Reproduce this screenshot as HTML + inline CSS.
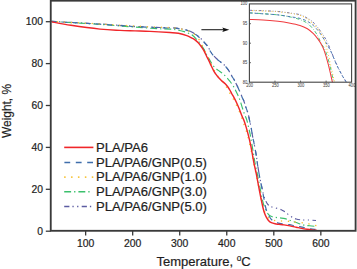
<!DOCTYPE html>
<html><head><meta charset="utf-8"><style>
html,body{margin:0;padding:0;background:#fff;}
body{width:357px;height:269px;overflow:hidden;}
svg{display:block;font-family:"Liberation Sans",sans-serif;}
text{stroke:#1e1e1e;stroke-width:0.2px;}
text.i{stroke:none;}
</style></head><body>
<svg width="357" height="269" viewBox="0 0 357 269">
<defs><clipPath id="ic"><rect x="249.40" y="3.90" width="102.20" height="78.30"/></clipPath><clipPath id="mc"><rect x="51.5" y="1.5" width="303.5" height="229"/></clipPath></defs>
<rect width="357" height="269" fill="#fff"/>
<g clip-path="url(#mc)">
<path d="M50.80 21.40C54.17 21.57 62.80 21.97 71.00 22.40C79.20 22.83 89.33 23.35 100.00 24.00C110.67 24.65 125.00 25.72 135.00 26.30C145.00 26.88 153.50 27.23 160.00 27.50C166.50 27.77 170.33 27.65 174.00 27.90C177.67 28.15 179.83 28.63 182.00 29.00C184.17 29.37 185.67 29.75 187.00 30.10C188.33 30.45 188.92 30.60 190.00 31.10C191.08 31.60 192.37 32.43 193.50 33.10C194.63 33.77 195.82 34.38 196.80 35.10C197.78 35.82 198.47 36.58 199.40 37.40C200.33 38.22 201.53 39.13 202.40 40.00C203.27 40.87 203.85 41.73 204.60 42.60C205.35 43.47 206.23 44.33 206.90 45.20C207.57 46.07 207.98 46.73 208.60 47.80C209.22 48.87 209.80 50.32 210.60 51.60C211.40 52.88 212.43 54.35 213.40 55.50C214.37 56.65 215.40 57.60 216.40 58.50C217.40 59.40 218.28 60.00 219.40 60.90C220.52 61.80 221.98 62.90 223.10 63.90C224.22 64.90 225.23 65.92 226.10 66.90C226.97 67.88 227.42 68.42 228.30 69.80C229.18 71.18 230.43 73.57 231.40 75.20C232.37 76.83 233.35 78.27 234.10 79.60C234.85 80.93 235.30 82.00 235.90 83.20C236.50 84.40 237.10 85.53 237.70 86.80C238.30 88.07 238.75 89.07 239.50 90.80C240.25 92.53 241.48 95.55 242.20 97.20C242.92 98.85 243.25 99.22 243.80 100.70C244.35 102.18 244.92 104.38 245.50 106.10C246.08 107.82 246.82 109.55 247.30 111.00C247.78 112.45 248.00 113.15 248.40 114.80C248.80 116.45 249.25 118.83 249.70 120.90C250.15 122.97 250.70 125.12 251.10 127.20C251.50 129.28 251.82 131.72 252.10 133.40C252.38 135.08 252.50 135.78 252.80 137.30C253.10 138.82 253.43 140.15 253.90 142.50C254.37 144.85 255.13 148.80 255.60 151.40C256.07 154.00 256.37 155.87 256.70 158.10C257.03 160.33 257.23 162.37 257.60 164.80C257.97 167.23 258.40 169.90 258.90 172.70C259.40 175.50 260.03 178.82 260.60 181.60C261.17 184.38 261.78 187.08 262.30 189.40C262.82 191.72 263.15 193.67 263.70 195.50C264.25 197.33 264.95 198.95 265.60 200.40C266.25 201.85 266.78 203.18 267.60 204.20C268.42 205.22 269.23 205.90 270.50 206.50C271.77 207.10 273.40 207.27 275.20 207.80C277.00 208.33 279.72 209.05 281.30 209.70C282.88 210.35 283.55 210.92 284.70 211.70C285.85 212.48 286.93 213.47 288.20 214.40C289.47 215.33 290.97 216.53 292.30 217.30C293.63 218.07 294.62 218.57 296.20 219.00C297.78 219.43 299.83 219.73 301.80 219.90C303.77 220.07 305.63 219.90 308.00 220.00C310.37 220.10 314.67 220.42 316.00 220.50" fill="none" stroke="#5c5ca2" stroke-width="1.15" stroke-linejoin="round" stroke-linecap="butt" stroke-dasharray="5.2 3 1.3 3.4 1.3 3.3"/>
<path d="M50.80 21.40C54.17 21.60 62.80 22.10 71.00 22.60C79.20 23.10 90.17 23.72 100.00 24.40C109.83 25.08 121.00 26.02 130.00 26.70C139.00 27.38 147.33 28.10 154.00 28.50C160.67 28.90 165.93 28.82 170.00 29.10C174.07 29.38 175.60 29.63 178.40 30.20C181.20 30.77 184.42 31.62 186.80 32.50C189.18 33.38 191.08 34.35 192.70 35.50C194.32 36.65 195.38 38.25 196.50 39.40C197.62 40.55 198.42 41.15 199.40 42.40C200.38 43.65 201.58 45.65 202.40 46.90C203.22 48.15 203.70 48.83 204.30 49.90C204.90 50.97 205.28 51.95 206.00 53.30C206.72 54.65 207.67 56.33 208.60 58.00C209.53 59.67 210.67 61.82 211.60 63.30C212.53 64.78 213.15 65.77 214.20 66.90C215.25 68.03 216.67 69.13 217.90 70.10C219.13 71.07 220.47 71.82 221.60 72.70C222.73 73.58 223.65 74.37 224.70 75.40C225.75 76.43 226.93 77.80 227.90 78.90C228.87 80.00 229.62 80.82 230.50 82.00C231.38 83.18 232.45 84.80 233.20 86.00C233.95 87.20 234.40 88.03 235.00 89.20C235.60 90.37 236.23 91.78 236.80 93.00C237.37 94.22 237.83 95.18 238.40 96.50C238.97 97.82 239.53 98.98 240.20 100.90C240.87 102.82 241.73 105.92 242.40 108.00C243.07 110.08 243.50 111.50 244.20 113.40C244.90 115.30 245.90 117.22 246.60 119.40C247.30 121.58 247.80 123.98 248.40 126.50C249.00 129.02 249.60 131.43 250.20 134.50C250.80 137.57 251.45 141.68 252.00 144.90C252.55 148.12 253.00 150.82 253.50 153.80C254.00 156.78 254.40 159.62 255.00 162.80C255.60 165.98 256.45 169.73 257.10 172.90C257.75 176.07 258.32 178.82 258.90 181.80C259.48 184.78 260.02 187.77 260.60 190.80C261.18 193.83 261.80 197.42 262.40 200.00C263.00 202.58 263.57 204.53 264.20 206.30C264.83 208.07 265.50 209.27 266.20 210.60C266.90 211.93 267.60 213.35 268.40 214.30C269.20 215.25 269.90 215.80 271.00 216.30C272.10 216.80 273.50 217.03 275.00 217.30C276.50 217.57 278.33 217.68 280.00 217.90C281.67 218.12 283.60 218.28 285.00 218.60C286.40 218.92 287.10 219.35 288.40 219.80C289.70 220.25 291.50 220.85 292.80 221.30C294.10 221.75 294.33 221.87 296.20 222.50C298.07 223.13 301.77 224.55 304.00 225.10C306.23 225.65 307.60 225.58 309.60 225.80C311.60 226.02 314.93 226.30 316.00 226.40" fill="none" stroke="#3bc06c" stroke-width="1.15" stroke-linejoin="round" stroke-linecap="butt" stroke-dasharray="6.9 3 1.3 3"/>
<path d="M50.80 21.40C54.17 21.58 62.80 22.03 71.00 22.50C79.20 22.97 89.33 23.52 100.00 24.20C110.67 24.88 125.00 26.00 135.00 26.60C145.00 27.20 153.50 27.53 160.00 27.80C166.50 28.07 170.33 27.97 174.00 28.20C177.67 28.43 179.83 28.85 182.00 29.20C184.17 29.55 185.67 29.95 187.00 30.30C188.33 30.65 188.92 30.80 190.00 31.30C191.08 31.80 192.37 32.63 193.50 33.30C194.63 33.97 195.82 34.58 196.80 35.30C197.78 36.02 198.47 36.78 199.40 37.60C200.33 38.42 201.53 39.33 202.40 40.20C203.27 41.07 203.85 41.93 204.60 42.80C205.35 43.67 206.23 44.53 206.90 45.40C207.57 46.27 207.98 46.93 208.60 48.00C209.22 49.07 209.80 50.52 210.60 51.80C211.40 53.08 212.43 54.55 213.40 55.70C214.37 56.85 215.40 57.80 216.40 58.70C217.40 59.60 218.28 60.20 219.40 61.10C220.52 62.00 221.98 63.10 223.10 64.10C224.22 65.10 225.23 66.12 226.10 67.10C226.97 68.08 227.42 68.62 228.30 70.00C229.18 71.38 230.43 73.77 231.40 75.40C232.37 77.03 233.35 78.47 234.10 79.80C234.85 81.13 235.30 82.20 235.90 83.40C236.50 84.60 237.10 85.73 237.70 87.00C238.30 88.27 238.75 89.27 239.50 91.00C240.25 92.73 241.48 95.75 242.20 97.40C242.92 99.05 243.25 99.42 243.80 100.90C244.35 102.38 244.92 104.58 245.50 106.30C246.08 108.02 246.82 109.75 247.30 111.20C247.78 112.65 248.00 113.35 248.40 115.00C248.80 116.65 249.25 119.03 249.70 121.10C250.15 123.17 250.70 125.32 251.10 127.40C251.50 129.48 251.82 131.92 252.10 133.60C252.38 135.28 252.50 135.98 252.80 137.50C253.10 139.02 253.43 140.35 253.90 142.70C254.37 145.05 255.13 149.00 255.60 151.60C256.07 154.20 256.37 156.07 256.70 158.30C257.03 160.53 257.23 162.57 257.60 165.00C257.97 167.43 258.40 170.10 258.90 172.90C259.40 175.70 260.03 179.02 260.60 181.80C261.17 184.58 261.80 187.07 262.30 189.60C262.80 192.13 263.12 194.35 263.60 197.00C264.08 199.65 264.60 202.92 265.20 205.50C265.80 208.08 266.47 210.58 267.20 212.50C267.93 214.42 268.80 215.75 269.60 217.00C270.40 218.25 271.02 219.17 272.00 220.00C272.98 220.83 274.25 221.43 275.50 222.00C276.75 222.57 278.08 223.05 279.50 223.40C280.92 223.75 282.33 223.88 284.00 224.10C285.67 224.32 287.83 224.45 289.50 224.70C291.17 224.95 292.32 225.27 294.00 225.60C295.68 225.93 297.73 226.33 299.60 226.70C301.47 227.07 303.33 227.45 305.20 227.80C307.07 228.15 309.08 228.53 310.80 228.80C312.52 229.07 314.72 229.30 315.50 229.40" fill="none" stroke="#3f6eab" stroke-width="1.2" stroke-linejoin="round" stroke-linecap="butt" stroke-dasharray="5.8 5.4"/>
<path d="M50.80 21.40C54.17 21.57 62.80 21.97 71.00 22.40C79.20 22.83 90.17 23.43 100.00 24.00C109.83 24.57 120.00 25.27 130.00 25.80C140.00 26.33 152.50 26.85 160.00 27.20C167.50 27.55 170.53 27.37 175.00 27.90C179.47 28.43 183.85 29.57 186.80 30.40C189.75 31.23 190.97 31.77 192.70 32.90C194.43 34.03 195.88 35.68 197.20 37.20C198.52 38.72 199.60 40.32 200.60 42.00C201.60 43.68 202.30 45.42 203.20 47.30C204.10 49.18 205.10 51.33 206.00 53.30C206.90 55.27 207.73 57.25 208.60 59.10C209.47 60.95 210.33 62.67 211.20 64.40C212.07 66.13 212.93 67.90 213.80 69.50C214.67 71.10 215.55 72.65 216.40 74.00C217.25 75.35 217.88 76.33 218.90 77.60C219.92 78.87 221.30 80.12 222.50 81.60C223.70 83.08 225.05 84.87 226.10 86.50C227.15 88.13 227.87 89.73 228.80 91.40C229.73 93.07 230.70 94.83 231.70 96.50C232.70 98.17 233.83 99.55 234.80 101.40C235.77 103.25 236.60 105.60 237.50 107.60C238.40 109.60 239.43 111.52 240.20 113.40C240.97 115.28 241.55 117.32 242.10 118.90C242.65 120.48 242.90 121.18 243.50 122.90C244.10 124.62 245.02 127.12 245.70 129.20C246.38 131.28 246.90 132.78 247.60 135.40C248.30 138.02 249.18 141.83 249.90 144.90C250.62 147.97 251.28 150.82 251.90 153.80C252.52 156.78 252.93 159.62 253.60 162.80C254.27 165.98 255.20 169.73 255.90 172.90C256.60 176.07 257.18 178.82 257.80 181.80C258.42 184.78 258.98 187.77 259.60 190.80C260.22 193.83 260.93 197.38 261.50 200.00C262.07 202.62 262.48 204.58 263.00 206.50C263.52 208.42 263.97 209.97 264.60 211.50C265.23 213.03 266.10 214.62 266.80 215.70C267.50 216.78 268.07 217.35 268.80 218.00C269.53 218.65 269.87 219.15 271.20 219.60C272.53 220.05 274.73 220.47 276.80 220.70C278.87 220.93 281.35 220.87 283.60 221.00C285.85 221.13 288.23 221.30 290.30 221.50C292.37 221.70 293.90 221.97 296.00 222.20C298.10 222.43 300.63 222.60 302.90 222.90C305.17 223.20 307.45 223.57 309.60 224.00C311.75 224.43 314.77 225.25 315.80 225.50" fill="none" stroke="#f7c12e" stroke-width="1.5" stroke-linejoin="round" stroke-linecap="round" stroke-dasharray="0.01 6.9"/>
<path d="M50.80 21.70C54.17 22.30 62.80 24.07 71.00 25.30C79.20 26.53 91.83 28.25 100.00 29.10C108.17 29.95 114.17 30.10 120.00 30.40C125.83 30.70 130.00 30.73 135.00 30.90C140.00 31.07 144.17 31.13 150.00 31.40C155.83 31.67 165.27 32.18 170.00 32.50C174.73 32.82 175.60 32.78 178.40 33.30C181.20 33.82 184.53 34.80 186.80 35.60C189.07 36.40 190.63 37.40 192.00 38.10C193.37 38.80 194.00 39.07 195.00 39.80C196.00 40.53 197.02 41.45 198.00 42.50C198.98 43.55 199.92 44.75 200.90 46.10C201.88 47.45 202.93 48.87 203.90 50.60C204.87 52.33 205.85 54.78 206.70 56.50C207.55 58.22 208.25 59.35 209.00 60.90C209.75 62.45 210.42 64.15 211.20 65.80C211.98 67.45 212.97 69.47 213.70 70.80C214.43 72.13 214.88 72.75 215.60 73.80C216.32 74.85 217.00 75.95 218.00 77.10C219.00 78.25 220.40 79.58 221.60 80.70C222.80 81.82 224.15 82.75 225.20 83.80C226.25 84.85 227.08 85.88 227.90 87.00C228.72 88.12 229.43 89.33 230.10 90.50C230.77 91.67 231.27 92.85 231.90 94.00C232.53 95.15 233.12 95.95 233.90 97.40C234.68 98.85 235.70 100.77 236.60 102.70C237.50 104.63 238.40 106.78 239.30 109.00C240.20 111.22 241.23 114.12 242.00 116.00C242.77 117.88 243.20 118.40 243.90 120.30C244.60 122.20 245.45 124.88 246.20 127.40C246.95 129.92 247.67 132.48 248.40 135.40C249.13 138.32 249.95 141.83 250.60 144.90C251.25 147.97 251.75 150.82 252.30 153.80C252.85 156.78 253.27 159.62 253.90 162.80C254.53 165.98 255.45 169.73 256.10 172.90C256.75 176.07 257.23 178.82 257.80 181.80C258.37 184.78 258.92 187.77 259.50 190.80C260.08 193.83 260.75 197.30 261.30 200.00C261.85 202.70 262.30 204.92 262.80 207.00C263.30 209.08 263.72 210.80 264.30 212.50C264.88 214.20 265.57 215.82 266.30 217.20C267.03 218.58 267.87 219.88 268.70 220.80C269.53 221.72 270.25 222.20 271.30 222.70C272.35 223.20 273.72 223.53 275.00 223.80C276.28 224.07 277.50 224.12 279.00 224.30C280.50 224.48 282.17 224.63 284.00 224.90C285.83 225.17 287.97 225.52 290.00 225.90C292.03 226.28 294.23 226.78 296.20 227.20C298.17 227.62 299.93 228.05 301.80 228.40C303.67 228.75 305.72 229.05 307.40 229.30C309.08 229.55 310.37 229.73 311.90 229.90C313.43 230.07 315.82 230.23 316.60 230.30" fill="none" stroke="#f0262a" stroke-width="1.45" stroke-linejoin="round" stroke-linecap="butt"/>
</g>
<rect x="50.75" y="0.70" width="304.85" height="230.10" fill="none" stroke="#3a3a3a" stroke-width="1.85"/>
<line x1="45.8" y1="231.20" x2="50.75" y2="231.20" stroke="#3a3a3a" stroke-width="1.3"/>
<text x="42.9" y="234.60" text-anchor="end" font-size="10.3" fill="#1e1e1e">0</text>
<line x1="45.8" y1="189.30" x2="50.75" y2="189.30" stroke="#3a3a3a" stroke-width="1.3"/>
<text x="42.9" y="192.70" text-anchor="end" font-size="10.3" fill="#1e1e1e">20</text>
<line x1="45.8" y1="147.40" x2="50.75" y2="147.40" stroke="#3a3a3a" stroke-width="1.3"/>
<text x="42.9" y="150.80" text-anchor="end" font-size="10.3" fill="#1e1e1e">40</text>
<line x1="45.8" y1="105.50" x2="50.75" y2="105.50" stroke="#3a3a3a" stroke-width="1.3"/>
<text x="42.9" y="108.90" text-anchor="end" font-size="10.3" fill="#1e1e1e">60</text>
<line x1="45.8" y1="63.60" x2="50.75" y2="63.60" stroke="#3a3a3a" stroke-width="1.3"/>
<text x="42.9" y="67.00" text-anchor="end" font-size="10.3" fill="#1e1e1e">80</text>
<line x1="45.8" y1="21.70" x2="50.75" y2="21.70" stroke="#3a3a3a" stroke-width="1.3"/>
<text x="42.9" y="25.10" text-anchor="end" font-size="10.3" fill="#1e1e1e">100</text>
<line x1="85.64" y1="230.80" x2="85.64" y2="235.5" stroke="#3a3a3a" stroke-width="1.3"/>
<text x="85.64" y="246.6" text-anchor="middle" font-size="10.4" fill="#1e1e1e">100</text>
<line x1="132.68" y1="230.80" x2="132.68" y2="235.5" stroke="#3a3a3a" stroke-width="1.3"/>
<text x="132.68" y="246.6" text-anchor="middle" font-size="10.4" fill="#1e1e1e">200</text>
<line x1="179.72" y1="230.80" x2="179.72" y2="235.5" stroke="#3a3a3a" stroke-width="1.3"/>
<text x="179.72" y="246.6" text-anchor="middle" font-size="10.4" fill="#1e1e1e">300</text>
<line x1="226.76" y1="230.80" x2="226.76" y2="235.5" stroke="#3a3a3a" stroke-width="1.3"/>
<text x="226.76" y="246.6" text-anchor="middle" font-size="10.4" fill="#1e1e1e">400</text>
<line x1="273.80" y1="230.80" x2="273.80" y2="235.5" stroke="#3a3a3a" stroke-width="1.3"/>
<text x="273.80" y="246.6" text-anchor="middle" font-size="10.4" fill="#1e1e1e">500</text>
<line x1="320.84" y1="230.80" x2="320.84" y2="235.5" stroke="#3a3a3a" stroke-width="1.3"/>
<text x="320.84" y="246.6" text-anchor="middle" font-size="10.4" fill="#1e1e1e">600</text>
<text x="156.5" y="266" font-size="13" fill="#1e1e1e">Temperature, <tspan font-size="8.2" dy="-4.9">o</tspan><tspan dy="4.9">C</tspan></text>
<text transform="translate(11.2,137.9) rotate(-90)" font-size="13" fill="#1e1e1e" textLength="53.9" lengthAdjust="spacingAndGlyphs">Weight, %</text>
<line x1="64.20" y1="147.40" x2="93.40" y2="147.40" stroke="#f0262a" stroke-width="1.6" stroke-linecap="butt"/>
<text x="96.0" y="151.70" font-size="12.0" fill="#1e1e1e" textLength="52.11" lengthAdjust="spacingAndGlyphs">PLA/PA6</text>
<line x1="64.40" y1="162.40" x2="93.40" y2="162.40" stroke="#3f6eab" stroke-width="1.5" stroke-linecap="butt" stroke-dasharray="5.8 5.6"/>
<text x="96.0" y="166.70" font-size="12.0" fill="#1e1e1e" textLength="110.99" lengthAdjust="spacingAndGlyphs">PLA/PA6/GNP(0.5)</text>
<line x1="64.90" y1="177.10" x2="93.40" y2="177.10" stroke="#f7c12e" stroke-width="1.9" stroke-linecap="round" stroke-dasharray="0.01 6.9"/>
<text x="96.0" y="181.40" font-size="12.0" fill="#1e1e1e" textLength="110.99" lengthAdjust="spacingAndGlyphs">PLA/PA6/GNP(1.0)</text>
<line x1="64.20" y1="191.70" x2="91.00" y2="191.70" stroke="#3bc06c" stroke-width="1.4" stroke-linecap="butt" stroke-dasharray="6.9 3 1.3 3"/>
<text x="96.0" y="196.00" font-size="12.0" fill="#1e1e1e" textLength="110.99" lengthAdjust="spacingAndGlyphs">PLA/PA6/GNP(3.0)</text>
<line x1="64.20" y1="206.50" x2="93.40" y2="206.50" stroke="#5c5ca2" stroke-width="1.4" stroke-linecap="butt" stroke-dasharray="5.2 3 1.3 3.4 1.3 3.3"/>
<text x="96.0" y="210.80" font-size="12.0" fill="#1e1e1e" textLength="110.99" lengthAdjust="spacingAndGlyphs">PLA/PA6/GNP(5.0)</text>
<line x1="201.4" y1="29.7" x2="224" y2="29.7" stroke="#222" stroke-width="1.1"/>
<path d="M222.3 27.4 L229.3 29.7 L222.3 32.0 L223.6 29.7 Z" fill="#111"/>
<rect x="249.40" y="3.90" width="102.20" height="78.30" fill="#fff" stroke="none"/>
<g clip-path="url(#ic)">
<path d="M249.40 10.30C251.67 10.37 258.23 10.50 263.00 10.70C267.77 10.90 273.50 11.12 278.00 11.50C282.50 11.88 286.33 12.47 290.00 13.00C293.67 13.53 297.35 13.97 300.00 14.70C302.65 15.43 303.92 16.33 305.90 17.40C307.88 18.47 309.92 19.40 311.90 21.10C313.88 22.80 315.82 25.12 317.80 27.60C319.78 30.08 322.18 33.50 323.80 36.00C325.42 38.50 326.17 39.77 327.50 42.60C328.83 45.43 330.27 49.35 331.80 53.00C333.33 56.65 335.05 60.93 336.70 64.50C338.35 68.07 340.00 71.32 341.70 74.40C343.40 77.48 346.03 81.57 346.90 83.00" fill="none" stroke="#5c5ca2" stroke-width="0.9" stroke-linejoin="round" stroke-linecap="butt" stroke-dasharray="2.6 1.8 0.7 1.8 0.7 1.8"/>
<path d="M249.40 12.80C251.67 12.95 258.23 13.35 263.00 13.70C267.77 14.05 273.50 14.37 278.00 14.90C282.50 15.43 286.33 16.12 290.00 16.90C293.67 17.68 297.10 18.53 300.00 19.60C302.90 20.67 305.17 21.68 307.40 23.30C309.63 24.92 311.67 27.18 313.40 29.30C315.13 31.42 316.57 33.78 317.80 36.00C319.03 38.22 319.53 40.13 320.80 42.60C322.07 45.07 323.92 47.10 325.40 50.80C326.88 54.50 328.28 59.43 329.70 64.80C331.12 70.17 333.20 79.97 333.90 83.00" fill="none" stroke="#3bc06c" stroke-width="0.9" stroke-linejoin="round" stroke-linecap="butt" stroke-dasharray="3.5 1.8 0.7 1.8"/>
<path d="M249.40 12.90C251.67 13.05 258.23 13.47 263.00 13.80C267.77 14.13 273.50 14.42 278.00 14.90C282.50 15.38 286.33 16.12 290.00 16.70C293.67 17.28 297.10 17.63 300.00 18.40C302.90 19.17 305.17 20.10 307.40 21.30C309.63 22.50 311.42 23.78 313.40 25.60C315.38 27.42 317.48 29.83 319.30 32.20C321.12 34.57 322.82 37.42 324.30 39.80C325.78 42.18 326.98 44.30 328.20 46.50C329.42 48.70 330.22 50.00 331.60 53.00C332.98 56.00 334.85 60.93 336.50 64.50C338.15 68.07 339.78 71.32 341.50 74.40C343.22 77.48 345.92 81.57 346.80 83.00" fill="none" stroke="#4a78b4" stroke-width="0.95" stroke-linejoin="round" stroke-linecap="butt" stroke-dasharray="3 2.4"/>
<path d="M249.40 10.50C251.67 10.57 258.23 10.70 263.00 10.90C267.77 11.10 273.50 11.30 278.00 11.70C282.50 12.10 286.33 12.68 290.00 13.30C293.67 13.92 297.10 14.47 300.00 15.40C302.90 16.33 304.92 17.22 307.40 18.90C309.88 20.58 312.67 23.15 314.90 25.50C317.13 27.85 319.20 30.52 320.80 33.00C322.40 35.48 323.43 37.57 324.50 40.40C325.57 43.23 326.18 45.98 327.20 50.00C328.22 54.02 329.35 59.00 330.60 64.50C331.85 70.00 334.02 79.92 334.70 83.00" fill="none" stroke="#f7c12e" stroke-width="1.1" stroke-linejoin="round" stroke-linecap="round" stroke-dasharray="0.01 3.2"/>
<path d="M249.40 19.50C251.67 19.57 258.23 19.60 263.00 19.90C267.77 20.20 273.67 20.80 278.00 21.30C282.33 21.80 285.33 22.22 289.00 22.90C292.67 23.58 296.93 24.42 300.00 25.40C303.07 26.38 305.17 27.42 307.40 28.80C309.63 30.18 311.67 32.02 313.40 33.70C315.13 35.38 316.53 37.22 317.80 38.90C319.07 40.58 319.92 41.82 321.00 43.80C322.08 45.78 323.07 47.30 324.30 50.80C325.53 54.30 327.02 59.43 328.40 64.80C329.78 70.17 331.90 79.97 332.60 83.00" fill="none" stroke="#f03a3e" stroke-width="1.05" stroke-linejoin="round" stroke-linecap="butt"/>
</g>
<rect x="249.40" y="3.90" width="102.20" height="78.30" fill="none" stroke="#444" stroke-width="1.1"/>
<line x1="274.98" y1="82.20" x2="274.98" y2="80.60" stroke="#444" stroke-width="0.8"/>
<line x1="300.55" y1="82.20" x2="300.55" y2="80.60" stroke="#444" stroke-width="0.8"/>
<line x1="326.12" y1="82.20" x2="326.12" y2="80.60" stroke="#444" stroke-width="0.8"/>
<line x1="249.40" y1="62.70" x2="251.00" y2="62.70" stroke="#444" stroke-width="0.8"/>
<line x1="249.40" y1="43.20" x2="251.00" y2="43.20" stroke="#444" stroke-width="0.8"/>
<line x1="249.40" y1="23.70" x2="251.00" y2="23.70" stroke="#444" stroke-width="0.8"/>
<text class="i" x="249.70" y="87.2" text-anchor="middle" font-size="4.8" fill="#333" textLength="6.81" lengthAdjust="spacingAndGlyphs">200</text>
<text class="i" x="275.28" y="87.2" text-anchor="middle" font-size="4.8" fill="#333" textLength="6.81" lengthAdjust="spacingAndGlyphs">250</text>
<text class="i" x="300.85" y="87.2" text-anchor="middle" font-size="4.8" fill="#333" textLength="6.81" lengthAdjust="spacingAndGlyphs">300</text>
<text class="i" x="326.43" y="87.2" text-anchor="middle" font-size="4.8" fill="#333" textLength="6.81" lengthAdjust="spacingAndGlyphs">350</text>
<text class="i" x="352.00" y="87.2" text-anchor="middle" font-size="4.8" fill="#333" textLength="6.81" lengthAdjust="spacingAndGlyphs">400</text>
<text class="i" x="247.2" y="83.90" text-anchor="end" font-size="4.8" fill="#333" textLength="4.54" lengthAdjust="spacingAndGlyphs">80</text>
<text class="i" x="247.2" y="64.40" text-anchor="end" font-size="4.8" fill="#333" textLength="4.54" lengthAdjust="spacingAndGlyphs">85</text>
<text class="i" x="247.2" y="44.90" text-anchor="end" font-size="4.8" fill="#333" textLength="4.54" lengthAdjust="spacingAndGlyphs">90</text>
<text class="i" x="247.2" y="25.40" text-anchor="end" font-size="4.8" fill="#333" textLength="4.54" lengthAdjust="spacingAndGlyphs">95</text>
<text class="i" x="247.2" y="4.60" text-anchor="end" font-size="4.8" fill="#333" textLength="6.81" lengthAdjust="spacingAndGlyphs">100</text>
</svg>
</body></html>
